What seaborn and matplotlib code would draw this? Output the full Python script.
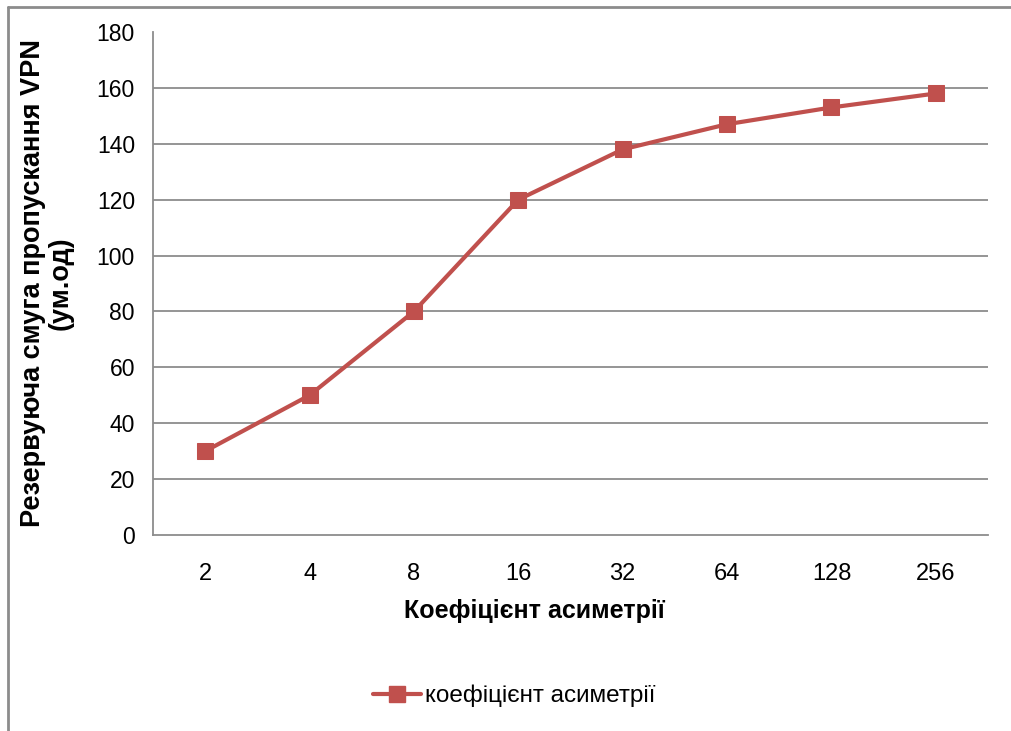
import matplotlib
matplotlib.use("Agg")
import matplotlib.pyplot as plt
import seaborn as sns
import pandas as pd
from matplotlib.lines import Line2D

categories = ["2", "4", "8", "16", "32", "64", "128", "256"]
values = [30, 50, 80, 120, 138, 147, 153, 158]
series_name = "коефіцієнт асиметрії"
y_ticks = [0, 20, 40, 60, 80, 100, 120, 140, 160, 180]

sns.set_theme(style="white")
plt.rcParams['font.family'] = ['Liberation Sans', 'DejaVu Sans']
plt.rcParams['text.color'] = '#000000'
plt.rcParams['axes.labelcolor'] = '#000000'
plt.rcParams['xtick.color'] = '#000000'
plt.rcParams['ytick.color'] = '#000000'

W, H = 1011, 731
fig = plt.figure(figsize=(W / 100, H / 100), dpi=100)
ax = fig.add_axes([153 / W, 1 - 535 / H, (988 - 153) / W, (535 - 32) / H])

df = pd.DataFrame({"x": list(range(len(categories))), "y": values})
color = "#C0504D"
sns.lineplot(data=df, x="x", y="y", ax=ax, color=color, linewidth=3.0,
             marker="s", markersize=11.5, markeredgecolor=color,
             markerfacecolor=color, zorder=5)

ax.set_xlim(-0.5, len(categories) - 0.5)
ax.set_ylim(0, 180)
ax.set_yticks(y_ticks)
ax.set_yticklabels([str(v) for v in y_ticks], fontsize=16.5, color="#000000")
ax.set_xticks(range(len(categories)))
ax.set_xticklabels(categories, fontsize=17, color="#000000")
ax.set_xticks([i - 0.5 for i in range(len(categories) + 1)], minor=True)
ax.tick_params(axis="x", which="major", length=0, pad=20, labelcolor="#000000")
ax.tick_params(axis="x", which="minor", length=6, width=1.2, color="#868686", direction="out")
ax.tick_params(axis="y", which="major", length=5, width=1.2, color="#868686", direction="out",
               pad=8, labelcolor="#000000")

grid_color = "#8C8C8C"
for v in y_ticks[1:-1]:
    ax.axhline(v, color=grid_color, linewidth=1.3, zorder=1)

for s in ["top", "right"]:
    ax.spines[s].set_visible(False)
for s in ["left", "bottom"]:
    ax.spines[s].set_color(grid_color)
    ax.spines[s].set_linewidth(1.3)

ax.set_xlabel("")
ax.set_ylabel("")

fig.text(534 / W, 1 - 611 / H, "Коефіцієнт асиметрії", ha="center", va="center",
         fontsize=18, fontweight="bold", color="#000000")
fig.text(47 / W, 1 - 283 / H, "Резервуюча смуга пропускання VPN\n(ум.од)", ha="center", va="center",
         rotation=90, fontsize=19.5, fontweight="bold", multialignment="center", linespacing=1.1,
         color="#000000")

handle = Line2D([], [], color=color, linewidth=3.0, marker="s", markersize=11.5,
                markerfacecolor=color, markeredgecolor=color)
leg = fig.legend([handle], [series_name], loc="center", bbox_to_anchor=(514 / W, 1 - 696 / H),
                 frameon=False, fontsize=17.5, handlelength=2.0, handletextpad=0.15)
for t in leg.get_texts():
    t.set_color("#000000")

# chart frame
fig.add_artist(Line2D([8 / W, 8 / W], [0, 1 - 7 / H], color="#8C8C8C", linewidth=2.0,
                      transform=fig.transFigure))
fig.add_artist(Line2D([8 / W, 1], [1 - 7 / H, 1 - 7 / H], color="#8C8C8C", linewidth=2.0,
                      transform=fig.transFigure))

fig.savefig("out.png", dpi=100)
